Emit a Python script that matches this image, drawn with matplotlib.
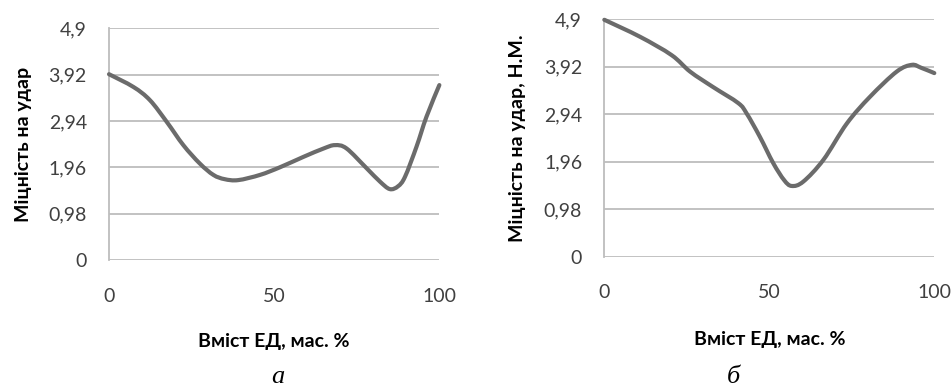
import matplotlib
matplotlib.use("Agg")
import matplotlib.pyplot as plt
from matplotlib.path import Path
from matplotlib.patches import PathPatch

# values (x: вміст ЕД, мас. %; y: міцність на удар)
x_a = [0, 7.4, 12.4, 17.5, 22.5, 27.5, 31.6, 35, 39.1, 45.7, 51.7, 58.8, 65,
       68.4, 71.9, 78, 82, 85, 87.5, 89.6, 93.1, 96.1, 100]
y_a = [3.93, 3.66, 3.38, 2.92, 2.43, 2.04, 1.80, 1.71, 1.69, 1.80, 1.96, 2.18, 2.36,
       2.43, 2.36, 1.94, 1.66, 1.50, 1.56, 1.76, 2.40, 3.03, 3.70]

x_b = [0, 10.8, 20.4, 26, 33, 40.6, 43.1, 47.1, 51.2, 54.5, 56.8, 60.3, 66.4,
       73.5, 80.5, 88.6, 93.2, 96, 100]
y_b = [4.89, 4.54, 4.16, 3.82, 3.50, 3.17, 2.96, 2.48, 1.93, 1.58, 1.46, 1.55, 2.00,
       2.75, 3.30, 3.82, 3.96, 3.90, 3.79]

y_ticks = [0, 0.98, 1.96, 2.94, 3.92, 4.9]
y_tick_labels = ["0", "0,98", "1,96", "2,94", "3,92", "4,9"]
x_ticks = [0, 50, 100]

ylabels = ["Міцність на удар", "Міцність на удар, Н.М."]
xlabel = "Вміст ЕД, мас. %"
captions = ["а", "б"]


def smooth_path(xs, ys):
    # Excel-style smoothed line: bezier segments through the points
    pts = list(zip(xs, ys))
    verts = [pts[0]]
    codes = [Path.MOVETO]
    n = len(pts)
    for i in range(n - 1):
        p0 = pts[i - 1] if i > 0 else pts[i]
        p1 = pts[i]
        p2 = pts[i + 1]
        p3 = pts[i + 2] if i + 2 < n else pts[i + 1]
        c1 = (p1[0] + (p2[0] - p0[0]) / 6, p1[1] + (p2[1] - p0[1]) / 6)
        c2 = (p2[0] - (p3[0] - p1[0]) / 6, p2[1] - (p3[1] - p1[1]) / 6)
        verts += [c1, c2, p2]
        codes += [Path.CURVE4] * 3
    return Path(verts, codes)


plt.rcParams["font.family"] = ["Lato", "DejaVu Sans"]

fig = plt.figure(figsize=(9.52, 3.9), dpi=100)
ax_a = fig.add_axes([0.1145, 0.3333, 0.347, 0.594])
ax_b = fig.add_axes([0.6348, 0.3418, 0.3466, 0.6087])

line_col = "#6b6b6b"
grid_col = "#bdbdbd"

for ax, xs, ys, ylab in [(ax_a, x_a, y_a, ylabels[0]), (ax_b, x_b, y_b, ylabels[1])]:
    ax.add_patch(PathPatch(smooth_path(xs, ys), facecolor="none", edgecolor=line_col,
                           lw=3.0, joinstyle="round", capstyle="round",
                           clip_on=False, zorder=3))
    ax.set_xlim(0, 100)
    ax.set_ylim(0, 4.9)
    ax.set_yticks(y_ticks)
    ax.set_yticklabels(y_tick_labels)
    ax.set_xticks(x_ticks)
    ax.grid(axis="y", color=grid_col, lw=1.3)
    ax.set_axisbelow(True)
    for s in ["top", "right", "bottom"]:
        ax.spines[s].set_visible(False)
    ax.spines["left"].set_color(grid_col)
    ax.spines["left"].set_linewidth(1.3)
    ax.tick_params(length=0, labelsize=14, colors="#404040")
    ax.tick_params(axis="y", pad=16)
    ax.tick_params(axis="x", pad=20)

ax_a.set_ylabel(ylabels[0], fontsize=14, fontweight="bold", labelpad=12)
ax_b.set_ylabel(ylabels[1], fontsize=14, fontweight="bold", labelpad=13)
ax_a.set_xlabel(xlabel, fontsize=14, fontweight="bold", labelpad=20)
ax_b.set_xlabel(xlabel, fontsize=14, fontweight="bold", labelpad=21)

fig.text(0.292, 0.004, captions[0], fontsize=19, style="italic",
         family="Liberation Serif", ha="center", va="bottom")
fig.text(0.77, 0.004, captions[1], fontsize=19, style="italic",
         family="Liberation Serif", ha="center", va="bottom")

fig.savefig("out.png", dpi=100)
